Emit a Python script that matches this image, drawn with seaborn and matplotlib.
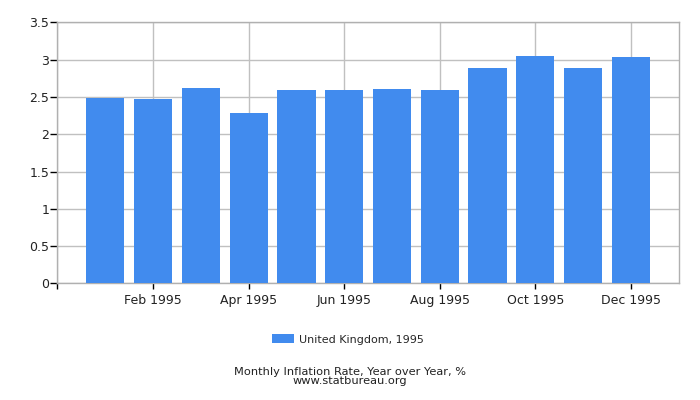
import numpy as np
import pandas as pd
import seaborn as sns
import matplotlib.pyplot as plt

months = ['Jan 1995', 'Feb 1995', 'Mar 1995', 'Apr 1995', 'May 1995', 'Jun 1995',
          'Jul 1995', 'Aug 1995', 'Sep 1995', 'Oct 1995', 'Nov 1995', 'Dec 1995']
rates = [2.49, 2.47, 2.62, 2.29, 2.59, 2.59, 2.61, 2.59, 2.89, 3.05, 2.89, 3.04]
series = 'United Kingdom, 1995'
yticks = [0, 0.5, 1, 1.5, 2, 2.5, 3, 3.5]
ytick_labels = ['0', '0.5', '1', '1.5', '2', '2.5', '3', '3.5']

df = pd.DataFrame({'month': months, 'rate': rates, 'series': series})

sns.set_style('white')
plt.rcParams['font.family'] = ['DejaVu Sans']

fig = plt.figure(figsize=(7, 4), dpi=100)
ax = fig.add_axes([0.0821, 0.2918, 0.8875, 0.652])

sns.barplot(data=df, x='month', y='rate', hue='series', palette=['#418bee'],
            width=0.8, saturation=1, linewidth=0, ax=ax, legend=True, zorder=3)

ax.set_xlim(-1, 12)
ax.set_ylim(0, 3.5)
ax.set_yticks(yticks)
ax.set_yticklabels(ytick_labels)
tick_pos = [-1, 1, 3, 5, 7, 9, 11]
ax.set_xticks(tick_pos)
ax.set_xticklabels([''] + [months[i] for i in tick_pos[1:]])
ax.grid(True, color='#c0c0c0', linewidth=1, zorder=0)
ax.set_axisbelow(True)
for s in ax.spines.values():
    s.set_color('#b0b0b0')
    s.set_linewidth(1)
ax.tick_params(axis='both', direction='out', length=5, width=1, color='black',
               labelsize=9, labelcolor='#222222', pad=1, bottom=True, left=True)
ax.tick_params(axis='x', length=4, pad=4)
ax.set_xlabel('')
ax.set_ylabel('')

ax.get_legend().remove()
handles, labels = ax.get_legend_handles_labels()
fig.legend(handles, labels, loc='center', bbox_to_anchor=(0.497, 0.151),
           frameon=False, fontsize=8, handlelength=2.0, handleheight=0.85,
           handletextpad=0.4)

fig.text(0.5, 1 - 376.5 / 400,
         'Monthly Inflation Rate, Year over Year, %\nwww.statbureau.org',
         ha='center', va='center', fontsize=8.2, color='#222222', linespacing=0.95)

fig.savefig('out.png', dpi=100)
